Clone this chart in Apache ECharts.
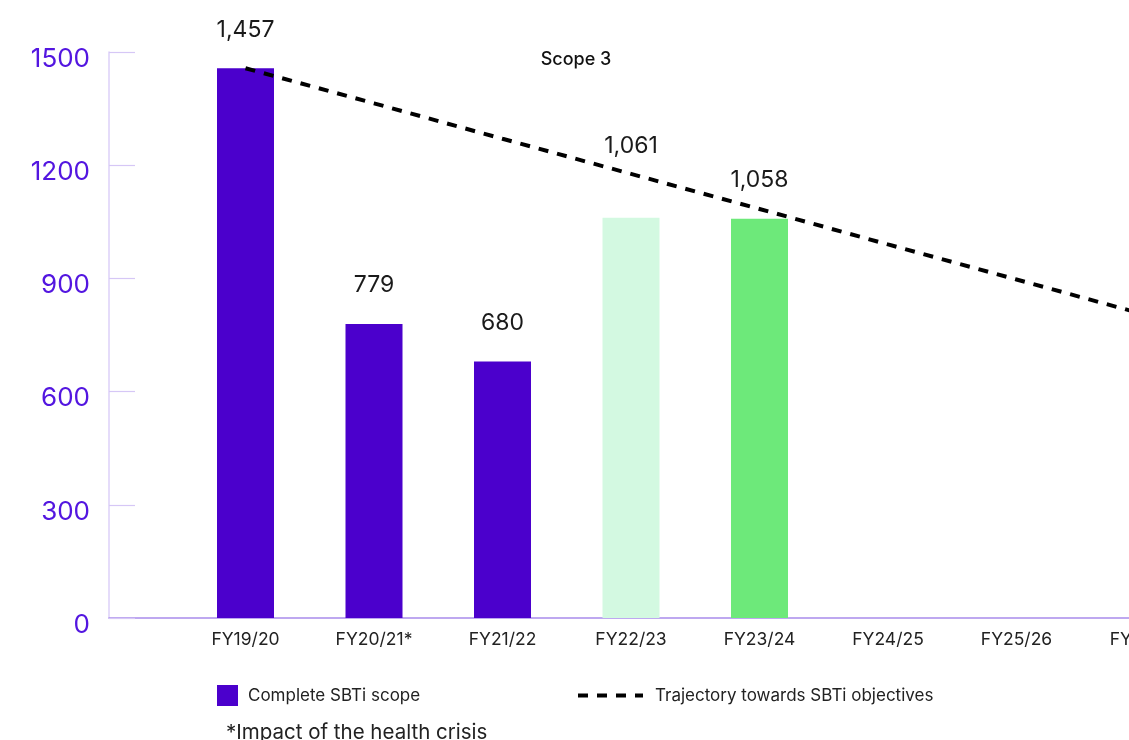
<!DOCTYPE html>
<html>
<head>
<meta charset="utf-8">
<script src="https://cdn.jsdelivr.net/npm/echarts@6/dist/echarts.min.js"></script>
<style>
  html, body { margin: 0; padding: 0; background: #fff; }
  #chart { width: 1129px; height: 740px; }
</style>
</head>
<body>
<div id="chart"></div>
<script>
// Fiscal years on the horizontal axis
const categories = ['FY19/20', 'FY20/21*', 'FY21/22', 'FY22/23', 'FY23/24', 'FY24/25', 'FY25/26', 'FY26/27'];
// Scope 3 emissions reported for each completed year
const emissions = [1457, 779, 680, 1061, 1058];
// Linear path towards the SBTi objective
const trajectory = [1457, 1364, 1270, 1177, 1084, 990, 897, 804];

const PURPLE = '#4b00cc';
const barColors = [PURPLE, PURPLE, PURPLE, '#d3f9e1', '#6de97a'];
const FONT = 'Inter, "Noto Sans", sans-serif';

const chart = echarts.init(document.getElementById('chart'), null, { renderer: 'canvas' });

// Grid geometry: first category centre and spacing in pixels
const gridLeft = 109, gridRight = -60;
const firstCentre = 245.5, step = 128.5;
const gridWidth = 1129 - gridLeft - gridRight;
const xMin = -(firstCentre - gridLeft) / step;
const xMax = xMin + gridWidth / step;

const barData = emissions.map((v, i) => ({
  value: [i, v],
  itemStyle: { color: barColors[i] },
  label: { distance: i === 3 ? 60 : 27 }
}));
const lineData = trajectory.map((v, i) => [i, v]);

// Dashed legend marker: four short dashes
const DASH_ICON = 'path://M0,0h10v4h-10zM19,0h10v4h-10zM38,0h10v4h-10zM57,0h8v4h-8z';

chart.setOption({
  animation: false,
  title: {
    text: 'Scope 3',
    left: 571, top: 46, textAlign: 'center',
    textStyle: { fontFamily: FONT, fontSize: 18, fontWeight: 500, color: '#111' }
  },
  grid: {
    left: gridLeft, right: gridRight, top: 52, bottom: 122,
    outerBoundsMode: 'none'
  },
  legend: [
    {
      data: ['Complete SBTi scope'],
      left: 217, top: 685, padding: 0,
      itemWidth: 21, itemHeight: 21,
      icon: 'rect',
      textStyle: { fontFamily: FONT, fontSize: 17, color: '#222', padding: [0, 0, 0, 5] }
    },
    {
      data: [{ name: 'Trajectory towards SBTi objectives', icon: DASH_ICON }],
      left: 578, top: 687, padding: 0,
      itemWidth: 65, itemHeight: 4,
      itemStyle: { color: '#000' },
      textStyle: { fontFamily: FONT, fontSize: 17, color: '#222', padding: [0, 0, 0, 7] }
    }
  ],
  xAxis: {
    type: 'value',
    min: xMin, max: xMax,
    splitLine: { show: false },
    axisTick: { show: false },
    axisLine: { show: true, onZero: false, lineStyle: { color: '#a98ceb', width: 1.5 } },
    axisLabel: {
      customValues: categories.map((c, i) => i),
      formatter: v => categories[Math.round(v)] || '',
      margin: 13,
      fontFamily: FONT, fontSize: 17.5, color: '#222'
    }
  },
  yAxis: {
    type: 'value',
    min: 0, max: 1500, interval: 300,
    splitLine: { show: false },
    axisLine: { show: true, onZero: false, lineStyle: { color: '#ddd0f8', width: 1.5 } },
    axisTick: { show: true, inside: true, length: 26, lineStyle: { color: '#d6c7f6', width: 1.2 } },
    axisLabel: {
      margin: 19,
      verticalAlign: 'top',
      lineHeight: 14,
      formatter: v => String(v),
      fontFamily: FONT, fontSize: 26, color: '#5316e0'
    }
  },
  series: [
    {
      name: 'Complete SBTi scope',
      type: 'bar',
      barWidth: 57,
      itemStyle: { color: PURPLE },
      data: barData,
      label: {
        show: true,
        position: 'top',
        fontFamily: FONT, fontSize: 23, color: '#1a1a1a',
        formatter: p => p.value[1].toLocaleString('en-US')
      }
    },
    {
      name: 'Trajectory towards SBTi objectives',
      type: 'line',
      symbol: 'none',
      data: lineData,
      z: 5,
      lineStyle: { color: '#000', width: 4, type: [10, 9] },
      itemStyle: { color: '#000' }
    }
  ],
  graphic: [
    {
      type: 'text',
      left: 226, top: 722,
      style: {
        text: '*Impact of the health crisis',
        font: '20.5px ' + FONT,
        fill: '#222'
      }
    }
  ]
});
</script>
</body>
</html>
